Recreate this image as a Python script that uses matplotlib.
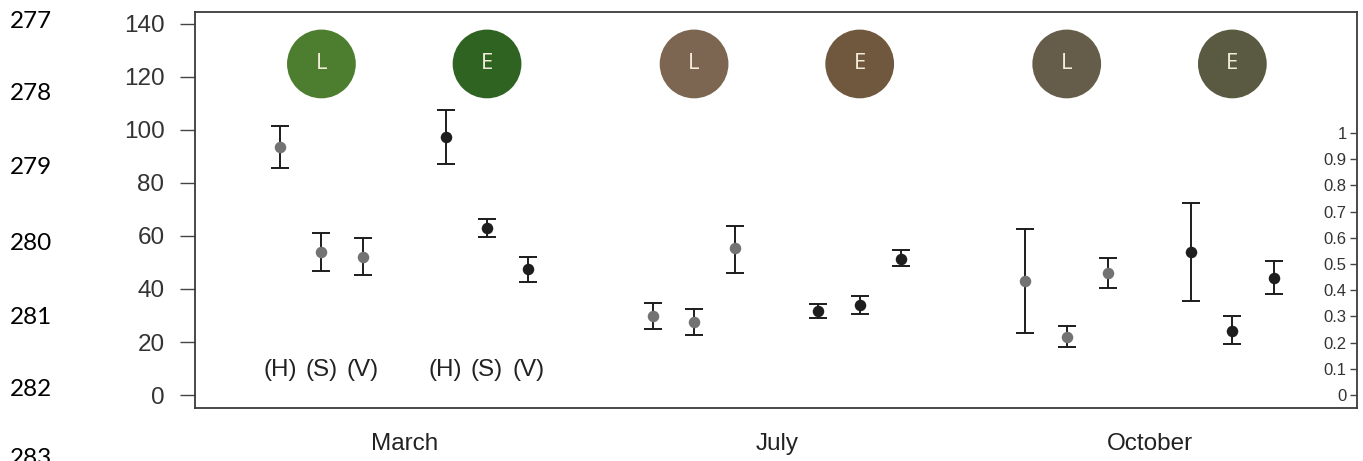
import matplotlib
matplotlib.use("Agg")
import matplotlib.pyplot as plt
import numpy as np

# ---- data ----
months = ["March", "July", "October"]
sites = ["L", "E"]
variables = ["(H)", "(S)", "(V)"]

L_mean  = [[93.6, 54.0, 52.1], [29.8, 27.5, 55.3], [43.0, 21.9, 46.0]]
L_upper = [[101.5, 61.1, 59.2], [34.7, 32.5, 63.6], [62.6, 26.0, 51.7]]
L_lower = [[85.7, 46.8, 45.3], [24.9, 22.6, 46.1], [23.4, 18.1, 40.4]]

E_mean  = [[97.4, 63.0, 47.5], [31.7, 34.0, 51.3], [54.0, 24.2, 44.2]]
E_upper = [[107.5, 66.4, 52.1], [34.3, 37.4, 54.6], [72.5, 29.8, 50.6]]
E_lower = [[87.2, 59.6, 42.6], [29.1, 30.6, 48.5], [35.5, 19.2, 38.1]]

circle_colors = [["#4d7d2e", "#2f6322"], ["#7c6651", "#70583f"], ["#655c4a", "#5a5941"]]
left_ticks = [0, 20, 40, 60, 80, 100, 120, 140]
right_ticks = [0, 0.1, 0.2, 0.3, 0.4, 0.5, 0.6, 0.7, 0.8, 0.9, 1]
right_labels = ["0", "0.1", "0.2", "0.3", "0.4", "0.5", "0.6", "0.7", "0.8", "0.9", "1"]
line_numbers = ["277", "278", "279", "280", "281", "282", "283"]

# ---- figure ----
W, H = 1363, 461
fig = plt.figure(figsize=(W / 100, H / 100), dpi=100)
ax = fig.add_axes([195 / W, 1 - 408 / H, (1357 - 195) / W, (408 - 12) / H])

font = "Liberation Sans"
err_col = "#1c1c1c"

series = [(L_mean, L_upper, L_lower, "#737373"), (E_mean, E_upper, E_lower, "#1e1e1e")]
for g, (mean, up, lo, mcol) in enumerate(series):
    for m in range(len(months)):
        xs = np.array([9 * m + 4 * g + j for j in range(len(variables))])
        mu = np.array(mean[m])
        yerr = np.vstack([mu - np.array(lo[m]), np.array(up[m]) - mu])
        ax.errorbar(xs, mu, yerr=yerr, fmt="none", ecolor=err_col,
                    elinewidth=1.4, capsize=6.8, capthick=1.4, zorder=2)
        ax.plot(xs, mu, "o", color=mcol, markersize=8.3, markeredgewidth=0, zorder=3)

# circles with letters
for m in range(len(months)):
    for g, s in enumerate(sites):
        cx = 9 * m + 4 * g + 1
        ax.scatter([cx], [124.9], s=49.5 ** 2, color=circle_colors[m][g],
                   edgecolors="none", zorder=4)
        ax.text(cx, 124.9, s, ha="center", va="center", color="#f3ecd9",
                fontsize=16, family="Open Sans", zorder=5)

# (H) (S) (V) labels under March groups
for g in range(len(sites)):
    for j, v in enumerate(variables):
        ax.text(4 * g + j, 9.4, v, ha="center", va="center", fontsize=17.5,
                family=font, color="#222222")

ax.set_xlim(-2.053, 26.01)
ax.set_ylim(-4.9, 144.5)
ax.set_yticks(left_ticks)
ax.set_yticklabels([str(t) for t in left_ticks], family=font, fontsize=17.5, color="#333333")
ax.tick_params(axis="y", direction="out", length=11, width=1, color="#444444", pad=11)
ax.set_xticks([9 * m + 3 for m in range(len(months))])
ax.set_xticklabels(months, family=font, fontsize=17.5, color="#222222")
ax.tick_params(axis="x", length=0, pad=18)
for sp in ax.spines.values():
    sp.set_color("#3a3a3a")
    sp.set_linewidth(1.3)

# right axis
ax2 = ax.twinx()
ax2.set_ylim(-0.0496, 1.462)
ax2.set_yticks(right_ticks)
ax2.set_yticklabels(right_labels, family=font, fontsize=12, color="#333333")
ax2.tick_params(axis="y", direction="in", length=5, width=1, color="#444444", pad=-7.5)
for lab in ax2.get_yticklabels():
    lab.set_horizontalalignment("right")
for sp in ax2.spines.values():
    sp.set_visible(False)

# document line numbers in left margin
ys = [21, 94, 168, 243, 317, 389, 458]
for t, y in zip(line_numbers, ys):
    fig.text(10 / W, 1 - y / H, t, ha="left", va="center", fontsize=17.5,
             family="Lato", color="#000000")

fig.savefig("out.png", dpi=100)
